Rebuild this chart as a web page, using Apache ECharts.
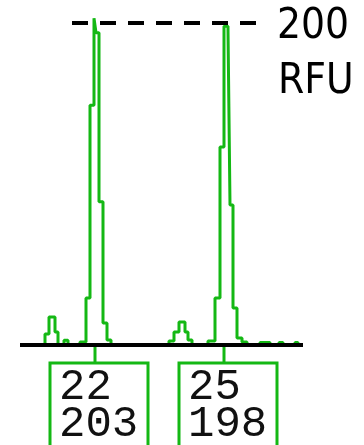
<!DOCTYPE html>
<html>
<head>
<meta charset="utf-8">
<style>html,body{margin:0;padding:0;background:#fff;}#c{width:364px;height:445px;}</style>
<script src="https://cdn.jsdelivr.net/npm/echarts@6/dist/echarts.min.js"></script>
</head>
<body>
<div id="c"></div>
<script>
// trace (scan position, RFU)
const scanX = [0, 25, 25, 29, 29, 35, 35, 38, 38,
  44, 44, 48, 48,
  60, 60, 66, 66, 70, 70, 74, 74, 76, 76, 79, 79, 83, 83, 87, 87, 91, 91,
  149, 149, 154, 154, 159, 159, 165, 165, 168, 168, 172, 172,
  188, 188, 195, 195, 200, 200, 204, 204, 208, 208, 210, 210, 213, 213, 217, 217, 222, 222, 227, 227,
  240, 240, 250, 250, 259, 259, 263, 263, 275, 275, 278, 278, 283];
const rfu = [0, 0, 6.8, 6.8, 17.4, 17.4, 8.1, 8.1, 0,
  0, 3, 3, 0,
  0, 1.9, 1.9, 29.2, 29.2, 149, 149, 203, 203, 194, 194, 89, 89, 13.7, 13.7, 3.1, 3.1, 0,
  0, 2.5, 2.5, 8.1, 8.1, 14.3, 14.3, 8.1, 8.1, 3.1, 3.1, 0,
  0, 2.5, 2.5, 29.2, 29.2, 123, 123, 198, 198, 195.7, 195.7, 87, 87, 23, 23, 4.3, 4.3, 1.9, 1.9, 0,
  0, 1.5, 1.5, 0, 0, 1.5, 1.5, 0, 0, 1.5, 1.5, 0, 0];
// allele calls
const alleleLabels = ['22', '25'];
const alleleHeights = [203, 198];
const alleleScan = [75, 204];
// threshold line
const thresholdRFU = 200;
const thresholdSpan = [52, 236];
const thresholdText = ['200', 'RFU'];

const GREEN = '#14b814';
const chart = echarts.init(document.getElementById('c'), null, {renderer: 'canvas'});
chart.setOption({
  animation: false,
  grid: {left: 20, right: 61, top: 7, bottom: 100},
  xAxis: {type: 'value', min: 0, max: 283, show: false},
  yAxis: {type: 'value', min: 0, max: 210, show: false},
  series: [
    {
      type: 'line', data: scanX.map((x, i) => [x, rfu[i]]),
      showSymbol: false, symbol: 'none', clip: false,
      lineStyle: {color: GREEN, width: 3}, z: 2
    },
    {
      type: 'line', data: [[0, 0], [283, 0]], showSymbol: false, symbol: 'none',
      lineStyle: {color: '#000', width: 4}, z: 5
    },
    {
      type: 'line', data: [[thresholdSpan[0], thresholdRFU], [thresholdSpan[1], thresholdRFU]],
      showSymbol: false, symbol: 'none',
      lineStyle: {color: '#000', width: 4, type: [16, 12]}, z: 4
    }
  ]
});

const base = chart.convertToPixel({gridIndex: 0}, [0, 0]);
const thr = chart.convertToPixel({gridIndex: 0}, [thresholdSpan[1], thresholdRFU]);
const els = [];
els.push({type: 'text', x: thr[0] + 21, y: thr[1] + 4, style: {text: thresholdText[0], font: '42px "Liberation Sans Narrow", "DejaVu Sans Condensed", sans-serif', fill: '#000', verticalAlign: 'middle'}});
els.push({type: 'text', x: thr[0] + 22, y: thr[1] + 59, style: {text: thresholdText[1], font: '42px "Liberation Sans Narrow", "DejaVu Sans Condensed", sans-serif', fill: '#000', verticalAlign: 'middle'}});
alleleScan.forEach((s, i) => {
  const p = chart.convertToPixel({gridIndex: 0}, [s, 0]);
  const sx = Math.round(p[0]);
  els.push({type: 'line', shape: {x1: sx, y1: base[1] + 2, x2: sx, y2: base[1] + 18}, style: {stroke: GREEN, lineWidth: 3}});
  els.push({type: 'rect', shape: {x: sx - 45, y: base[1] + 18, width: 98, height: 120}, style: {stroke: GREEN, lineWidth: 3, fill: 'none'}});
  els.push({type: 'text', x: sx - 36, y: base[1] + 42, style: {text: alleleLabels[i], font: '44px "Liberation Mono", monospace', fill: '#111', verticalAlign: 'middle'}});
  els.push({type: 'text', x: sx - 36, y: base[1] + 79, style: {text: String(alleleHeights[i]), font: '44px "Liberation Mono", monospace', fill: '#111', verticalAlign: 'middle'}});
});
chart.setOption({graphic: {elements: els}});
</script>
</body>
</html>
